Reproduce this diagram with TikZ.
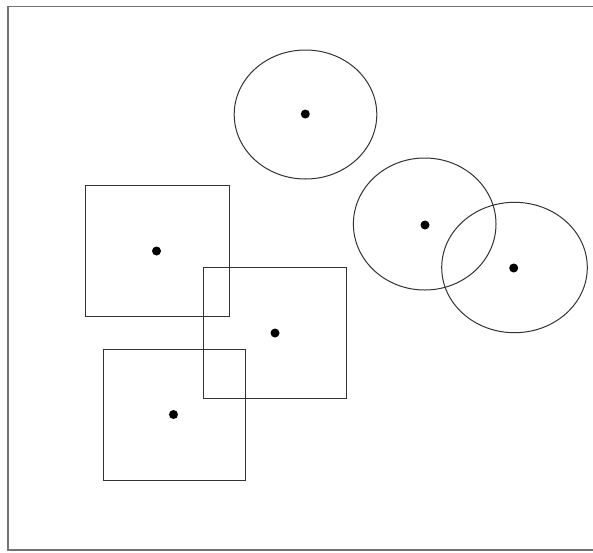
\documentclass[tikz,border=0pt]{standalone}
\begin{document}
\begin{tikzpicture}[x=1pt,y=-1pt,
  shapeline/.style={draw=black!80,line width=1pt},
  dotmark/.style={circle,fill=black,inner sep=0pt,minimum size=9pt},
  framebox/.style={draw=black!55,line width=1.6pt}]
\useasboundingbox (0,0) rectangle (593,552);
\clip (0,0) rectangle (593,552);
\draw[framebox] (8,6.5) rectangle (600,550);
% squares
\draw[shapeline] (85,185) rectangle (229,316);
\draw[shapeline] (203.5,267.5) rectangle (346.5,398);
\draw[shapeline] (103,349) rectangle (245,480);
\node[dotmark] (d1) at (156.5,251) {};
\node[dotmark] (d2) at (275,333) {};
\node[dotmark] (d3) at (173.5,414.5) {};
% circles
\draw[shapeline] (305.5,114.5) ellipse [x radius=71.3, y radius=64.5];
\draw[shapeline] (424.7,224) ellipse [x radius=71.3, y radius=66];
\draw[shapeline] (514.5,267.5) ellipse [x radius=72.8, y radius=65.2];
\node[dotmark] (c1) at (305.3,114) {};
\node[dotmark] (c2) at (425,225) {};
\node[dotmark] (c3) at (513.7,268) {};
\end{tikzpicture}
\end{document}
